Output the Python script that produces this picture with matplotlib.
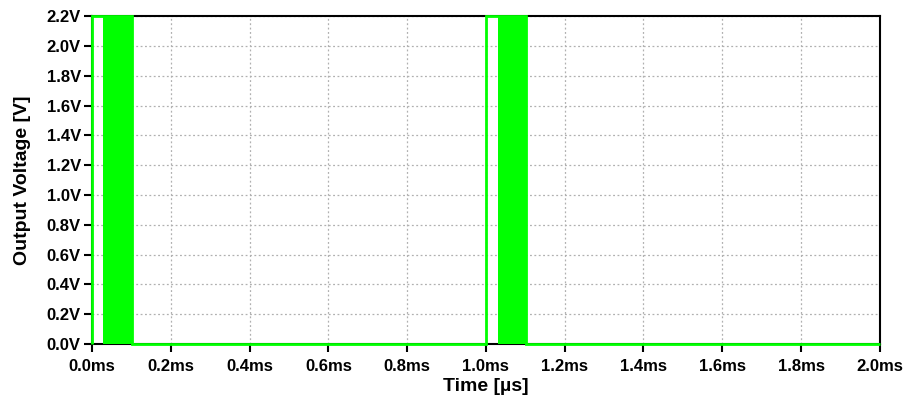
import matplotlib
matplotlib.use("Agg")
import matplotlib.pyplot as plt

plt.rcParams['font.family'] = ['Liberation Sans', 'DejaVu Sans']

# Output waveform (time in ms, voltage in V) outside the switching bursts
step_t = [0.0, 0.0, 0.028, 0.101, 0.101, 1.0, 1.0, 1.03, 1.103, 1.103, 2.0]
step_v = [0.0, 2.2, 2.2, 2.2, 0.0, 0.0, 2.2, 2.2, 2.2, 0.0, 0.0]

# Intervals of fast switching between the low and high rails
burst_start = [0.028, 1.03]
burst_end = [0.101, 1.103]
rail_low = 0.0
rail_high = 2.2

x_ticks = [0.0, 0.2, 0.4, 0.6, 0.8, 1.0, 1.2, 1.4, 1.6, 1.8, 2.0]
y_ticks = [0.0, 0.2, 0.4, 0.6, 0.8, 1.0, 1.2, 1.4, 1.6, 1.8, 2.0, 2.2]

green = '#00ff00'

fig = plt.figure(figsize=(9.07, 4.03), dpi=100)
ax = fig.add_axes([0.1014, 0.1464, 0.8686, 0.8136])

for s, e in zip(burst_start, burst_end):
    ax.fill_between([s, e], rail_low, rail_high, color=green, linewidth=0, zorder=3)
ax.plot(step_t, step_v, color=green, linewidth=2, zorder=4, clip_on=False,
        solid_joinstyle='miter', solid_capstyle='butt')

ax.set_xlim(0, 2.0)
ax.set_ylim(0, 2.2)
ax.set_xticks(x_ticks)
ax.set_yticks(y_ticks)
ax.set_xticklabels([f"{v:.1f}ms" for v in x_ticks])
ax.set_yticklabels([f"{v:.1f}V" for v in y_ticks])

ax.grid(True, color='#b0b0b0', linestyle=(0, (1.5, 2)), linewidth=0.9)
ax.set_axisbelow(True)

for sp in ax.spines.values():
    sp.set_linewidth(1.5)
    sp.set_color('black')

ax.tick_params(direction='out', length=6, width=1.5, labelsize=12)
ax.tick_params(axis='x', pad=5)
ax.tick_params(axis='y', pad=2)
for lab in ax.get_xticklabels() + ax.get_yticklabels():
    lab.set_fontweight('bold')

ax.set_xlabel('Time [µs]', fontsize=14, fontweight='bold', labelpad=3)
ax.set_ylabel('Output Voltage [V]', fontsize=14, fontweight='bold', labelpad=11)

fig.savefig('out.png', dpi=100)
